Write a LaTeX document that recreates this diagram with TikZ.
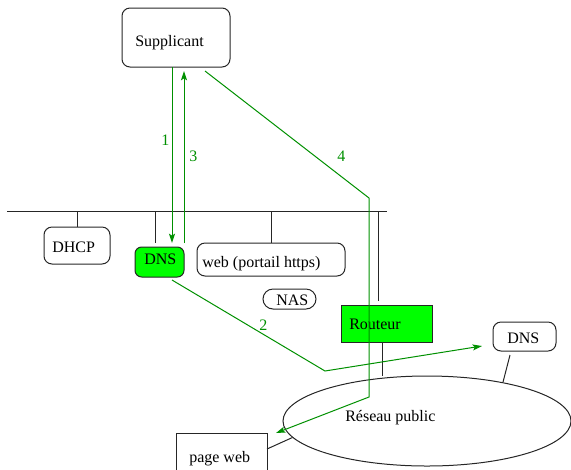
\documentclass[tikz,border=0pt]{standalone}
\usepackage{fontspec}
\setmainfont{Liberation Serif}
\usetikzlibrary{arrows.meta,calc,fit,shapes.geometric}
\definecolor{flowgreen}{RGB}{0,144,0}
\definecolor{boxgreen}{RGB}{0,255,0}
\tikzset{
  wire/.style={draw=black!85, line width=0.75pt},
  rbox/.style={draw=black!85, line width=0.75pt, rounded corners=6pt, inner sep=0pt, fit={#1}},
  sbox/.style={draw=black!85, line width=0.75pt, inner sep=0pt, fit={#1}},
  txt/.style={inner sep=0pt, anchor=base west, font=\fontsize{12}{14}\selectfont},
  gtxt/.style={txt, text=flowgreen},
  flow/.style={draw=flowgreen, line width=0.75pt},
  flowarrow/.style={flow, -{Stealth[length=7pt, width=4.5pt, inset=1.5pt]}},
}
\begin{document}
\begin{tikzpicture}[x=0.75pt, y=-0.75pt]
\clip (0,0) rectangle (571,469);

% boxes
\node[rbox={(122,8) (230,67)}] (sup) {};
\node[rbox={(44,227) (110,264)}] (dhcp) {};
\node[rbox={(135,247) (184,277)}, rounded corners=5pt, fill=boxgreen] (dns) {};
\node[rbox={(197,243) (345,276)}] (web) {};
\node[rbox={(263,289) (316,309)}, rounded corners=7.5pt] (nas) {};
\node[sbox={(341,305) (432,342)}, fill=boxgreen] (rout) {};
\node[rbox={(493,322) (556,351)}] (dnsp) {};
\node[sbox={(176,433) (267,485)}] (pw) {};
\node[draw=black!85, line width=0.75pt, ellipse, inner sep=0pt,
      minimum width=216pt, minimum height=67.5pt] (net) at (427,421) {};

% texts
\node[txt] (tsup) at (135,46) {Supplicant};
\node[txt] (tdhcp) at (52,252) {DHCP};
\node[txt] (tdns) at (144,264) {DNS};
\node[txt] (tweb) at (202,267) {web (portail https)};
\node[txt] (tnas) at (276,305) {NAS};
\node[txt] (trout) at (349,329) {Routeur};
\node[txt] (tdnsp) at (507,343) {DNS};
\node[txt] (tnet) at (345,421) {Réseau public};
\node[txt] (tpw) at (189,462) {page web};

% local network bus and its stems
\coordinate (busL) at (7,211);
\coordinate (busR) at (387,211);
\coordinate (sDNS) at (155,243);
\coordinate (sRout) at (378,301);
\coordinate (rBot) at (382,342);
\coordinate (dTail) at (510,355);
\coordinate (pTail) at (267,449);
\draw[wire] (busL) -- (busR);
\draw[wire] (dhcp.north |- busL) -- (dhcp.north);
\draw[wire] (sDNS |- busL) -- (sDNS);
\draw[wire] (web.north |- busL) -- (web.north);
\draw[wire] (sRout |- busL) -- (sRout);
\draw[wire] (rBot) -- (rBot |- net.north);
\draw[wire] (dTail) -- (net.27);
\draw[wire] (pTail) -- (net.187);

% message flows
\coordinate (s1) at (172,67);
\coordinate (e1) at (172,243);
\coordinate (s3) at (184,243);
\coordinate (e3) at (184,71);
\coordinate (s2) at (172,280);
\coordinate (k2) at (325,371);
\coordinate (e2) at (482,346);
\coordinate (s4) at (205,71);
\coordinate (k4a) at (369,198);
\coordinate (k4b) at (369,397);
\coordinate (e4) at (276,433);
\draw[flowarrow] (s1) -- (e1);
\draw[flowarrow] (s3) -- (e3);
\draw[flowarrow] (s2) -- (k2) -- (e2);
\draw[flowarrow] (s4) -- (k4a) -- (k4b) -- (e4);

% flow numbers
\node[gtxt] (n1) at (161,145) {1};
\node[gtxt] (n2) at (259,330) {2};
\node[gtxt] (n3) at (189,161) {3};
\node[gtxt] (n4) at (337,161) {4};
\end{tikzpicture}
\end{document}
